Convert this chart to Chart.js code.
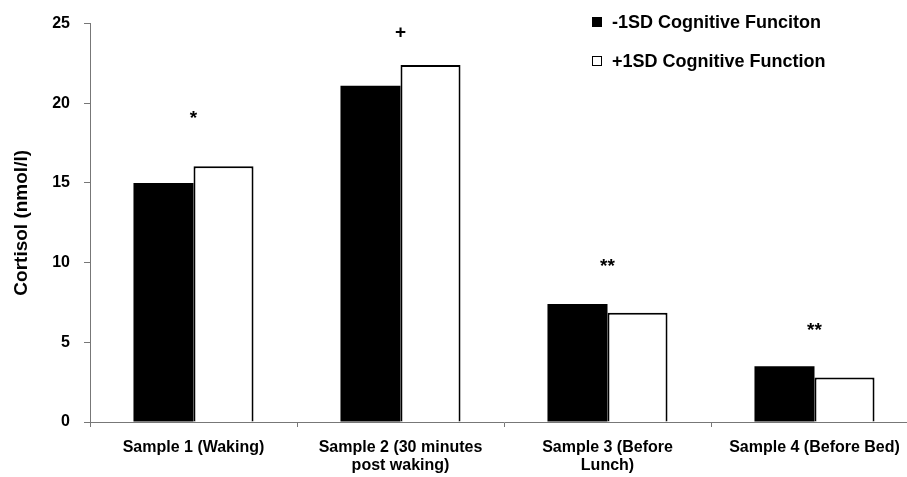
<!DOCTYPE html>
<html>
<head>
<meta charset="utf-8">
<script src="https://cdn.jsdelivr.net/npm/chart.js@4"></script>
<style>
  body { margin: 0; background: #fff; overflow: hidden; }
  #wrap { position: relative; width: 907px; height: 477px; overflow: hidden; }
  #legend { position: absolute; left: 592px; top: 11px; font: bold 18px "Liberation Sans", Arial, sans-serif; color: #000; }
  #legend div { height: 22px; margin-bottom: 17px; display: flex; align-items: center; }
  #legend span.box { display: inline-block; width: 10px; height: 10px; border: 1.5px solid #000; margin-right: 10px; box-sizing: border-box; }
</style>
</head>
<body>
<div id="wrap">
  <!-- canvas is a bit wider than the window: the x axis runs off the right edge in the original -->
  <canvas id="chart" width="918" height="477"></canvas>
  <div id="legend"></div>
</div>
<script>
const categories = [
  'Sample 1 (Waking)',
  ['Sample 2 (30 minutes', 'post waking)'],
  ['Sample 3 (Before', 'Lunch)'],
  'Sample 4 (Before Bed)'
];
const lowCognition = [15.0, 21.1, 7.4, 3.5];
const highCognition = [16.05, 22.4, 6.85, 2.8];
const seriesNames = ['-1SD Cognitive Funciton', '+1SD Cognitive Function'];
const marks = ['*', '+', '**', '**'];
const markLevels = [19.3, 24.4, 10.0, 6.0];
const yTicks = [0, 5, 10, 15, 20, 25];

const fontFamily = '"Liberation Sans", Arial, sans-serif';

// significance marks above each sample pair
const markPlugin = {
  id: 'marks',
  afterDatasetsDraw(chart) {
    const ctx = chart.ctx;
    const x = chart.scales.x, y = chart.scales.y;
    ctx.save();
    ctx.fillStyle = '#000';
    ctx.font = 'bold 19px ' + fontFamily;
    ctx.textAlign = 'center';
    ctx.textBaseline = 'middle';
    marks.forEach((m, i) => {
      ctx.fillText(m, x.getPixelForValue(i), y.getPixelForValue(markLevels[i]) + (m === '+' ? 0 : 4));
    });
    ctx.restore();
  }
};

const ctx = document.getElementById('chart').getContext('2d');
const chart = new Chart(ctx, {
  type: 'bar',
  data: {
    labels: categories,
    datasets: [{
      label: seriesNames[0],
      data: lowCognition,
      backgroundColor: '#000',
      borderColor: '#000',
      borderWidth: 0,
      categoryPercentage: 0.58,
      barPercentage: 1
    }, {
      label: seriesNames[1],
      data: highCognition,
      backgroundColor: '#fff',
      borderColor: '#000',
      borderWidth: 2,
      categoryPercentage: 0.58,
      barPercentage: 1
    }]
  },
  options: {
    responsive: false,
    animation: false,
    layout: { padding: { top: 12, right: 0, left: 0, bottom: 0 } },
    plugins: {
      legend: { display: false },
      tooltip: { enabled: false }
    },
    scales: {
      x: {
        grid: { display: true, drawOnChartArea: false, color: '#777', tickLength: 5, offset: true },
        border: { color: '#777', width: 1 },
        ticks: { color: '#000', font: { family: fontFamily, size: 16, weight: 'bold', lineHeight: 1.1 }, maxRotation: 0, padding: 12 },
        afterFit(scale) { scale.height = 55; }
      },
      y: {
        min: 0,
        max: 25,
        afterBuildTicks(scale) { scale.ticks = yTicks.map(v => ({ value: v })); },
        grid: { display: true, drawOnChartArea: false, color: '#777', tickLength: 6 },
        border: { color: '#777', width: 1 },
        ticks: { color: '#000', font: { family: fontFamily, size: 16, weight: 'bold' }, padding: 14 },
        title: {
          display: true,
          text: 'Cortisol (nmol/l)',
          color: '#000',
          font: { family: fontFamily, size: 19, weight: 'bold' },
          padding: { top: 10, bottom: 0 }
        },
        afterFit(scale) { scale.width = 90; }
      }
    }
  },
  plugins: [markPlugin]
});

const legend = document.getElementById('legend');
chart.data.datasets.forEach(ds => {
  const row = document.createElement('div');
  const box = document.createElement('span');
  box.className = 'box';
  box.style.background = ds.backgroundColor;
  row.appendChild(box);
  row.appendChild(document.createTextNode(ds.label));
  legend.appendChild(row);
});
</script>
</body>
</html>
